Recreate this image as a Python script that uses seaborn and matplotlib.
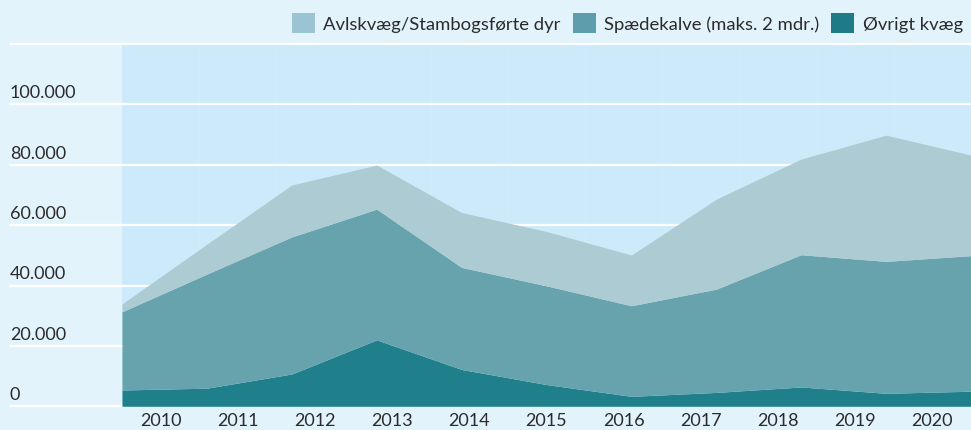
import numpy as np
import pandas as pd
import seaborn as sns
import matplotlib.pyplot as plt
from matplotlib.patches import Patch

years = ["2010", "2011", "2012", "2013", "2014", "2015", "2016", "2017", "2018", "2019", "2020"]
ovrigt = [5400, 6000, 10700, 22000, 12200, 7200, 3300, 4600, 6400, 4300, 5000]
spaede = [25900, 37800, 45400, 43300, 33800, 32700, 30000, 34200, 43800, 43700, 44900]
avls = [2600, 9900, 17200, 14600, 18200, 18000, 16800, 29800, 31700, 41800, 33300]
series_names = ["Avlskvæg/Stambogsførte dyr", "Spædekalve (maks. 2 mdr.)", "Øvrigt kvæg"]
y_ticks = [0, 20000, 40000, 60000, 80000, 100000]

df = pd.DataFrame({"year": years, "ovrigt": ovrigt, "spaede": spaede, "avls": avls})

area_colors = ["#1f808c", "#67a3ad", "#adcbd3"]
legend_colors = ["#9ac4d2", "#5e9eac", "#1f7a87"]
outer_bg = "#e3f3fc"
plot_bg = "#cceafa"

sns.set_theme(style="white")
plt.rcParams["font.family"] = ["Lato", "DejaVu Sans"]

fig = plt.figure(figsize=(9.71, 4.31), dpi=100, facecolor=outer_bg)
W, H = 971, 431
ax = fig.add_axes([122 / W, (H - 407.3) / H, (971 - 122) / W, (407.3 - 45) / H])
ax.set_facecolor(plot_bg)

x = np.arange(len(df))
ax.stackplot(x, df["ovrigt"], df["spaede"], df["avls"], colors=area_colors, zorder=3, linewidth=0)

ax.set_xlim(0, len(df) - 1)
ax.set_ylim(0, 120000)

# faint band separators
n = len(years)
for k in range(1, n):
    ax.axvline(k * (n - 1) / n, color="#d3ecfa", lw=0.6, zorder=1)

# white gridlines running out to the left edge
xmin = (10 - 122) / (971 - 122)
for v in y_ticks + [120000]:
    ax.axhline(v, xmin=xmin, xmax=1, color="white", lw=1.6, zorder=2, clip_on=False)
for v in y_ticks:
    ax.annotate(f"{v:,}".replace(",", "."), xy=(xmin, v), xycoords=("axes fraction", "data"),
                xytext=(0, 3), textcoords="offset points", ha="left", va="bottom",
                fontsize=13, color="#2b2b2b", annotation_clip=False)

ax.set_yticks([])
ax.set_xticks([(i + 0.5) * (n - 1) / n for i in range(n)])
ax.set_xticklabels(years, fontsize=13, color="#2b2b2b")
ax.tick_params(axis="x", length=0, pad=4)
sns.despine(ax=ax, left=True, bottom=True, top=True, right=True)

handles = [Patch(facecolor=c, edgecolor="none") for c in legend_colors]
fig.legend(handles, series_names, loc="center right", bbox_to_anchor=(963 / W, 1 - 24 / H),
           ncol=3, frameon=False, fontsize=13.3, handlelength=1.25, handleheight=1.25,
           handletextpad=0.45, columnspacing=0.65, labelcolor="#2b2b2b", borderpad=0,
           borderaxespad=0)

fig.savefig("out.png", dpi=100, facecolor=outer_bg)
